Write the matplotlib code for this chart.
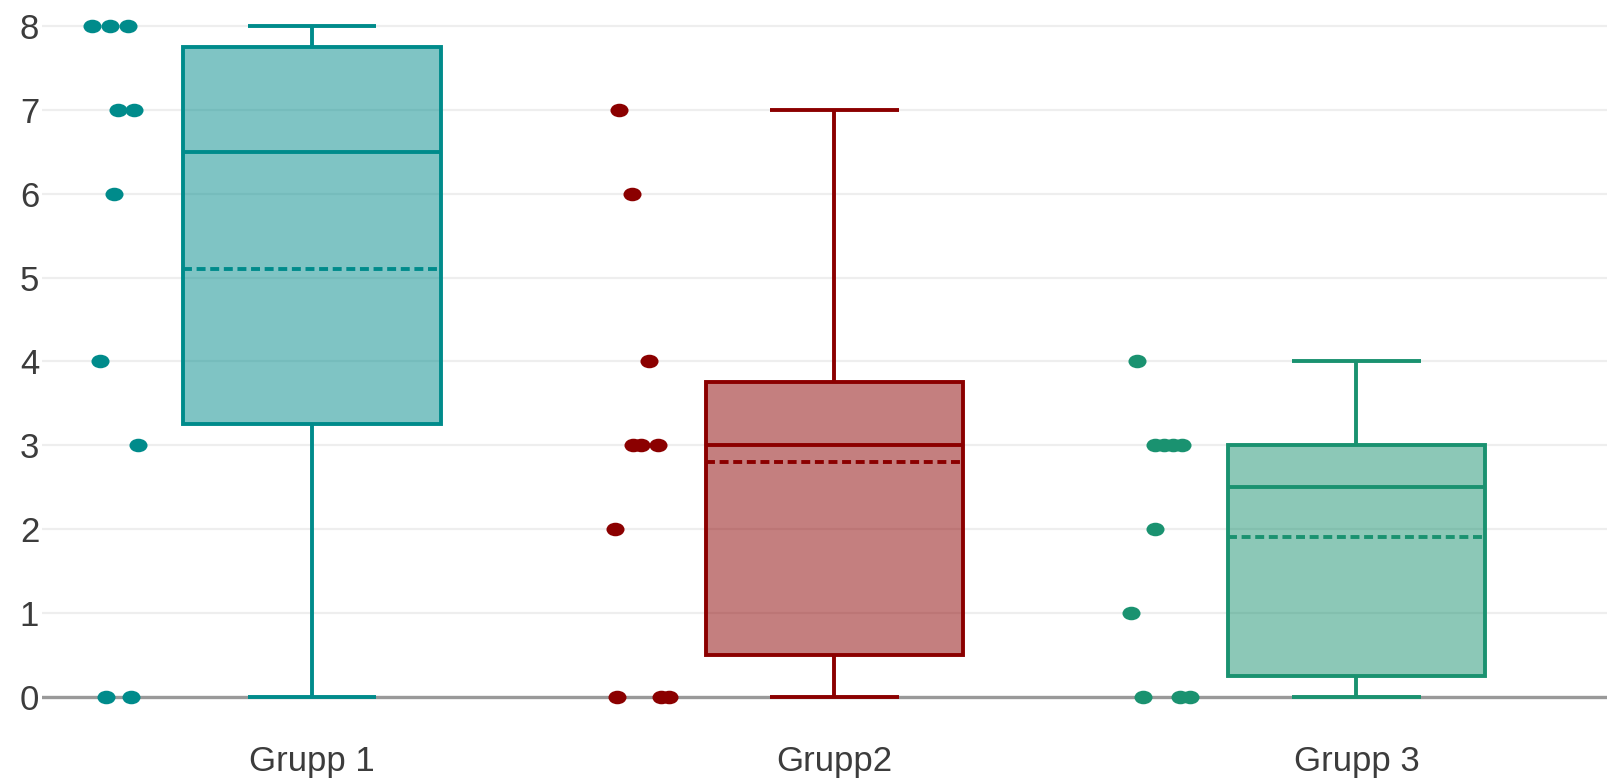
import matplotlib
matplotlib.use("Agg")
import matplotlib.pyplot as plt
from matplotlib.path import Path
from matplotlib.transforms import Affine2D
from matplotlib.colors import to_rgba

# ---- data ----
groups = ['Grupp 1', 'Grupp2', 'Grupp 3']
grupp1 = [8, 8, 8, 7, 7, 6, 4, 3, 0, 0]
grupp2 = [7, 6, 4, 3, 3, 3, 2, 0, 0, 0]
grupp3 = [4, 3, 3, 3, 3, 2, 1, 0, 0, 0]
y_ticks = [0, 1, 2, 3, 4, 5, 6, 7, 8]

# horizontal jitter of the shown points (offset from category centre)
jitter1 = [-0.422, -0.387, -0.352, -0.371, -0.341, -0.380, -0.406, -0.334, -0.394, -0.347]
jitter2 = [-0.412, -0.388, -0.355, -0.386, -0.370, -0.337, -0.420, -0.416, -0.332, -0.317]
jitter3 = [-0.421, -0.386, -0.369, -0.352, -0.335, -0.385, -0.431, -0.409, -0.337, -0.318]

colors = ['#008B8B', '#8B0000', '#1a9270']

plt.rcParams['font.family'] = ['Liberation Sans', 'DejaVu Sans']

W, H = 1608, 778
fig = plt.figure(figsize=(W / 100, H / 100), dpi=100)
ax = fig.add_axes([42 / W, (H - 722.7) / H, 1 - 42 / W, 722.7 / H])

data = [grupp1, grupp2, grupp3]
jitters = [jitter1, jitter2, jitter3]
positions = list(range(len(groups)))
lw = 2.8

bp = ax.boxplot(data, positions=positions, widths=0.493, whis=(0, 100),
                showmeans=True, meanline=True, patch_artist=True,
                showfliers=False, zorder=3)

for i, c in enumerate(colors):
    box = bp['boxes'][i]
    box.set_facecolor(to_rgba(c, 0.5))
    box.set_edgecolor(c)
    box.set_linewidth(lw)
    for key in ('whiskers', 'caps'):
        for ln in bp[key][2 * i:2 * i + 2]:
            ln.set_color(c)
            ln.set_linewidth(lw)
            ln.set_solid_capstyle('butt')
    bp['medians'][i].set_color(c)
    bp['medians'][i].set_linewidth(lw)
    m = bp['means'][i]
    m.set_color(c)
    m.set_linewidth(lw)
    m.set_linestyle((0, (2.3, 1.2)))

# elliptical dots
ell = Affine2D().scale(1.0, 0.75).transform_path(Path.unit_circle())
for i, (vals, jit, c) in enumerate(zip(data, jitters, colors)):
    xs = [positions[i] + j for j in jit]
    ax.plot(xs, vals, linestyle='none', marker=ell, markersize=13,
            markerfacecolor=c, markeredgecolor=c, markeredgewidth=0, zorder=4)

ax.axhline(0, color='#999999', lw=2.4, zorder=1.5)
ax.set_xlim(-0.517, 2.4816)
ax.set_ylim(-0.31, 8.31)
ax.set_yticks(y_ticks)
ax.set_yticklabels([str(t) for t in y_ticks])
ax.set_xticks(positions)
ax.set_xticklabels(groups)
ax.yaxis.grid(True, color='#eeeeee', lw=1.6)
ax.set_axisbelow(True)
for s in ax.spines.values():
    s.set_visible(False)
ax.tick_params(axis='both', length=0, labelsize=25, labelcolor='#3c3c3c')
ax.tick_params(axis='y', pad=2)
ax.tick_params(axis='x', pad=16)

fig.savefig('out.png', dpi=100)
